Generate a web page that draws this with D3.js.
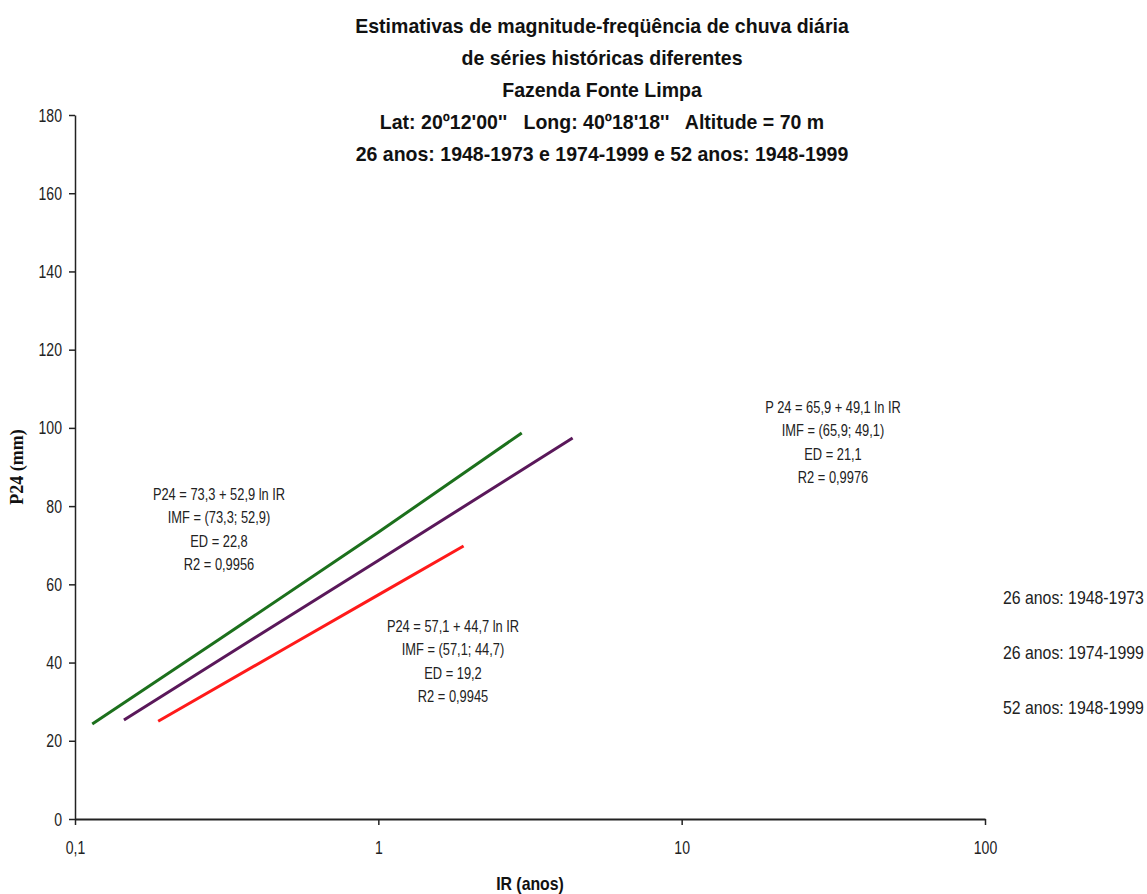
<!DOCTYPE html>
<html>
<head>
<meta charset="utf-8">
<script src="https://cdn.jsdelivr.net/npm/d3@7"></script>
<style>
  body { margin: 0; background: #fff; }
  svg { display: block; }
  text { white-space: pre; }
</style>
</head>
<body>
<svg width="1147" height="894"></svg>
<script>
// dados
const titleLines = [
    "Estimativas de magnitude-freqüência de chuva diária",
    "de séries históricas diferentes",
    "Fazenda Fonte Limpa",
    "Lat: 20º12'00''   Long: 40º18'18''   Altitude = 70 m",
    "26 anos: 1948-1973 e 1974-1999 e 52 anos: 1948-1999"
];
const xTicks = [0.1, 1, 10, 100];
const xTickLabels = ["0,1", "1", "10", "100"];
const yTicks = [0, 20, 40, 60, 80, 100, 120, 140, 160, 180];

const seriesNames = ["26 anos: 1948-1973", "26 anos: 1974-1999", "52 anos: 1948-1999"];
const seriesColors = ["#1c701c", "#5a185a", "#ff1a1a"];
const irGreen  = [0.114, 0.3, 1, 2.97];
const p24Green = [24.3, 46.0, 73.3, 98.7];
const irPurple  = [0.145, 0.4, 1, 4.37];
const p24Purple = [25.3, 46.8, 66.1, 97.4];
const irRed  = [0.188, 0.5, 1, 1.91];
const p24Red = [25.0, 43.9, 57.3, 69.8];

const noteGreen  = ["P24 = 73,3 + 52,9 ln IR", "IMF = (73,3; 52,9)", "ED = 22,8", "R2 = 0,9956"];
const notePurple = ["P 24 = 65,9 + 49,1 ln IR", "IMF = (65,9; 49,1)", "ED = 21,1", "R2 = 0,9976"];
const noteRed    = ["P24 = 57,1 + 44,7 ln IR", "IMF = (57,1; 44,7)", "ED = 19,2", "R2 = 0,9945"];

const sans = "'Liberation Sans', Arial, sans-serif";

// texto estreitado na horizontal (a fonte do original é estreita)
function addText(parent, x, y, txt, k, size, anchor, bold) {
    const g = parent.append("g")
        .attr("transform", `translate(${x}, ${y}) scale(${k}, 1)`);
    g.append("text")
        .attr("text-anchor", anchor)
        .style("font-family", sans)
        .style("font-size", size + "px")
        .style("font-weight", bold ? "bold" : "normal")
        .style("fill", bold ? "#111" : "#222")
        .text(txt);
    return g;
}

function drawChart() {
    const svg = d3.select("svg");
    svg.selectAll('*').remove();

    const area = { left: 75, right: 985, top: 115, bottom: 819 };

    const scaleX = d3.scaleLog().domain([0.1, 100]).range([area.left, area.right]);
    const scaleY = d3.scaleLinear().domain([0, 180]).range([area.bottom, area.top]);

    // título
    titleLines.forEach((t, i) => addText(svg, 602, 33 + i * 32, t, 0.93, 21, "middle", true));

    // eixos
    const kTick = 0.74;
    const axisX = d3.axisBottom(scaleX).tickValues(xTicks)
        .tickFormat((d, i) => xTickLabels[i]).tickSize(6).tickSizeOuter(0).tickPadding(16);
    const axisY = d3.axisLeft(scaleY).tickValues(yTicks).tickSize(6).tickSizeOuter(0).tickPadding(9);

    const gx = svg.append("g")
        .attr("transform", `translate(0, ${area.bottom})`)
        .call(axisX);
    const gy = svg.append("g")
        .attr("transform", `translate(${area.left}, 0)`)
        .call(axisY);

    [gx, gy].forEach(g => {
        g.selectAll("path, line").attr("stroke", "#222").attr("stroke-width", 1.5);
        g.selectAll("text")
            .style("font-family", sans)
            .style("font-size", "19px")
            .style("fill", "#222")
            .attr("transform", `scale(${kTick}, 1)`);
    });
    gy.selectAll("text").attr("x", -13 / kTick);
    gx.select(".domain").attr("stroke-width", 2);

    // títulos dos eixos
    addText(svg, (area.left + area.right) / 2, 890, "IR (anos)", 0.88, 18, "middle", true);

    svg.append("text")
        .attr("transform", `translate(23, ${(area.top + area.bottom) / 2}) rotate(-90)`)
        .attr("text-anchor", "middle")
        .style("font-family", "'Liberation Serif', 'Times New Roman', serif")
        .style("font-weight", "bold")
        .style("font-size", "18px")
        .style("fill", "#111")
        .text("P24 (mm)");

    // linhas
    const series = [
        { ir: irGreen, p: p24Green },
        { ir: irPurple, p: p24Purple },
        { ir: irRed, p: p24Red }
    ];
    const lineGenerator = d3.line()
        .x(d => scaleX(d[0]))
        .y(d => scaleY(d[1]));

    series.forEach((s, i) => {
        svg.append("path")
            .data([d3.zip(s.ir, s.p)])
            .attr("d", lineGenerator)
            .style("stroke", seriesColors[i])
            .style("stroke-width", 3)
            .style("fill", "none");
    });

    // anotações das equações
    const notes = [
        { lines: noteGreen, x: 219, y: 500 },
        { lines: notePurple, x: 833, y: 413 },
        { lines: noteRed, x: 453, y: 632 }
    ];
    notes.forEach(n => {
        n.lines.forEach((t, i) => addText(svg, n.x, n.y + i * 23.3, t, 0.78, 16.5, "middle", false));
    });

    // legenda (só texto, como no original)
    seriesNames.forEach((t, i) => addText(svg, 1003, 604 + i * 55, t, 0.88, 18, "start", false));
}

drawChart();
</script>
</body>
</html>
